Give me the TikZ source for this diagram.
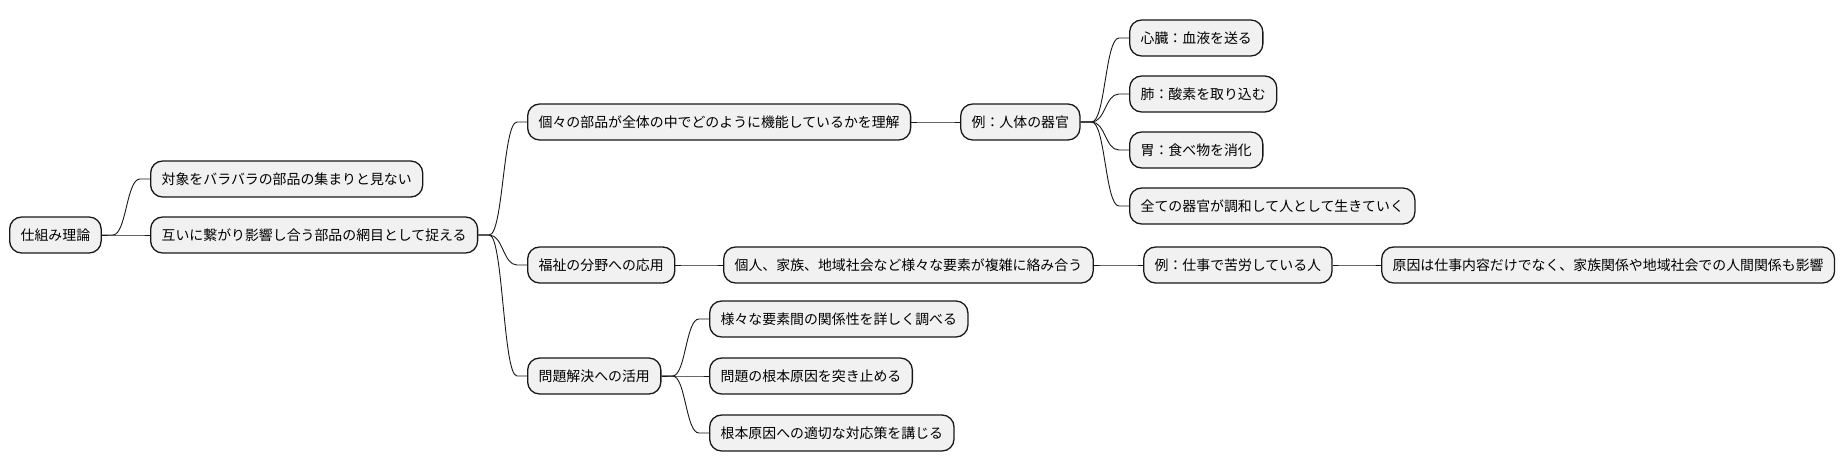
\documentclass[tikz,border=0pt]{standalone}
\usepackage{fontspec}
\setmainfont{Noto Sans CJK JP}
\usetikzlibrary{
  calc
  }
\definecolor{boxfill}{HTML}{F1F1F1}
\definecolor{boxline}{HTML}{181818}
% curved branch from parent to child
\newcommand{\branch}[2]{%
  \coordinate (bA) at ($(#1.east)+(11,0)$);
  \coordinate (bB) at ($(#2.west)+(-10,0)$);
  \coordinate (bM) at ($(bA)!0.5!(bB)$);
  \draw[link] (#1.east) -- (bA)
    .. controls (bM |- bA) and (bM |- bB) .. (bB) -- (#2.west);
}

\begin{document}
\begin{tikzpicture}[x=1pt, y=-1pt]
  \tikzset{
    every node/.style={font=\fontsize{13.9}{16}\selectfont},
    topic/.style={draw=boxline, fill=boxfill, line width=1.3pt,
      rounded corners=12pt, minimum height=36pt, inner xsep=11pt,
      inner ysep=0pt, anchor=west},
    link/.style={line width=0.9pt, draw=boxline}
  }
  \useasboundingbox (0,0) rectangle (1846,471);
  %
  \node[topic] (root) at (9,235) {仕組み理論};
  \node[topic] (taisho) at (150,179) {対象をバラバラの部品の集まりと見ない};
  \node[topic] (tagai) at (150,235) {互いに繋がり影響し合う部品の網目として捉える};
  %
  \node[topic] (koko) at (527,122) {個々の部品が全体の中でどのように機能しているかを理解};
  \node[topic] (jintai) at (960,122) {例：人体の器官};
  \node[topic] (shinzo) at (1129,38) {心臓：血液を送る};
  \node[topic] (hai) at (1129,94) {肺：酸素を取り込む};
  \node[topic] (ibukuro) at (1129,150) {胃：食べ物を消化};
  \node[topic] (subete) at (1129,206) {全ての器官が調和して人として生きていく};
  %
  \node[topic] (fukushi) at (527,265) {福祉の分野への応用};
  \node[topic] (kojin) at (723,265) {個人、家族、地域社会など様々な要素が複雑に絡み合う};
  \node[topic] (shigoto) at (1143,265) {例：仕事で苦労している人};
  \node[topic] (genin) at (1381,265) {原因は仕事内容だけでなく、家族関係や地域社会での人間関係も影響};
  %
  \node[topic] (mondai) at (527,376) {問題解決への活用};
  \node[topic] (yoso) at (709,319) {様々な要素間の関係性を詳しく調べる};
  \node[topic] (konpon) at (709,376) {問題の根本原因を突き止める};
  \node[topic] (taisaku) at (709,433) {根本原因への適切な対応策を講じる};
  %
  \branch{root}{taisho}
  \branch{root}{tagai}
  \branch{tagai}{koko}
  \branch{tagai}{fukushi}
  \branch{tagai}{mondai}
  \branch{koko}{jintai}
  \branch{jintai}{shinzo}
  \branch{jintai}{hai}
  \branch{jintai}{ibukuro}
  \branch{jintai}{subete}
  \branch{fukushi}{kojin}
  \branch{kojin}{shigoto}
  \branch{shigoto}{genin}
  \branch{mondai}{yoso}
  \branch{mondai}{konpon}
  \branch{mondai}{taisaku}
\end{tikzpicture}
\end{document}
